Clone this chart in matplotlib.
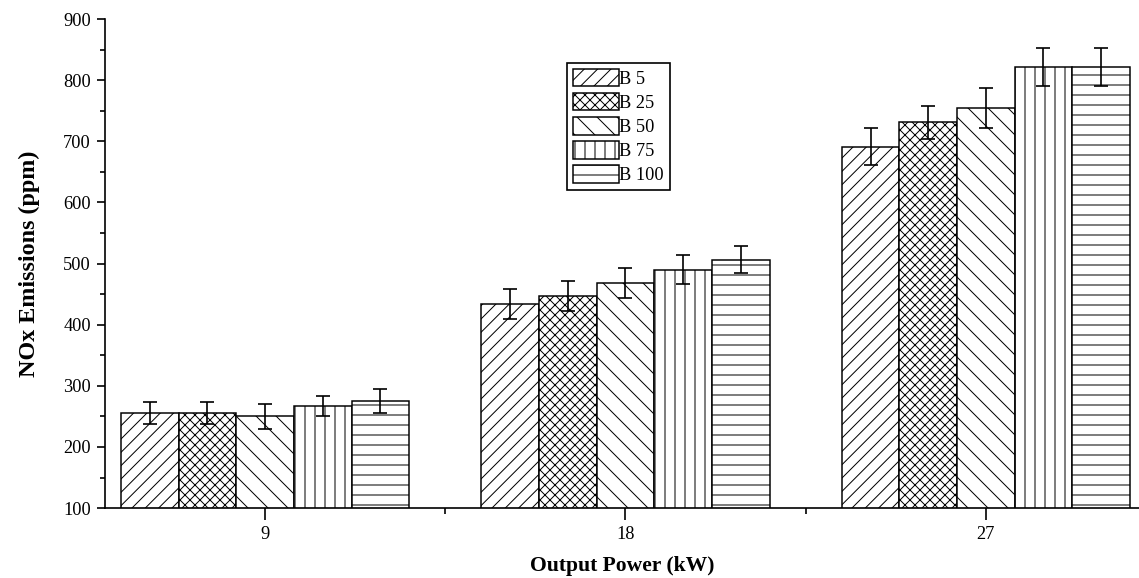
import numpy as np
import matplotlib
matplotlib.use("Agg")
import matplotlib.pyplot as plt
from matplotlib.ticker import MultipleLocator

plt.rcParams['font.family'] = ['Liberation Serif', 'DejaVu Serif']
plt.rcParams['hatch.linewidth'] = 0.6

# NOx emissions for each blend at each output power
power = ["9", "18", "27"]
blends = ["B 5", "B 25", "B 50", "B 75", "B 100"]
b5 = [255, 434, 691]
b25 = [255, 447, 731]
b50 = [250, 468, 755]
b75 = [267, 490, 822]
b100 = [275, 506, 822]
b5_err = [18, 25, 30]
b25_err = [18, 25, 27]
b50_err = [20, 25, 33]
b75_err = [17, 24, 31]
b100_err = [19, 22, 31]

values = [b5, b25, b50, b75, b100]
errors = [b5_err, b25_err, b50_err, b75_err, b100_err]
hatches = ['///', 'xxxx', '\\\\', '||', '--']

fig = plt.figure(figsize=(1139 / 120, 578 / 120), dpi=120)
ax = fig.add_axes([0.0922, 0.121, 0.9078, 0.846])

x = np.arange(len(power))
width = 0.16
for i in range(len(blends)):
    pos = x + (i - 2) * width
    ax.bar(pos, values[i], width, color='white', edgecolor='black',
           linewidth=0.9, hatch=hatches[i], label=blends[i])
    ax.errorbar(pos, values[i], yerr=errors[i], fmt='none', ecolor='black',
                elinewidth=1.0, capsize=4, capthick=1.0)

ax.set_xlim(-0.444, 2.425)
ax.set_ylim(100, 900)
ax.set_xticks(x)
ax.set_xticklabels(power)
ax.xaxis.set_minor_locator(MultipleLocator(0.5))
ax.yaxis.set_major_locator(MultipleLocator(100))
ax.yaxis.set_minor_locator(MultipleLocator(50))
ax.tick_params(axis='both', which='major', direction='out', labelsize=11, width=1)
ax.tick_params(axis='x', which='major', length=7)
ax.tick_params(axis='y', which='major', length=5)
ax.tick_params(axis='x', which='minor', direction='out', length=3.5, width=1)
ax.tick_params(axis='y', which='minor', direction='out', length=3, width=1)

ax.spines['top'].set_visible(False)
ax.spines['right'].set_visible(False)
ax.spines['left'].set_linewidth(1.0)
ax.spines['bottom'].set_linewidth(1.0)

ax.set_xlabel("Output Power (kW)", fontsize=13, fontweight='bold', labelpad=8)
ax.set_ylabel("NOx Emissions (ppm)", fontsize=14.5, fontweight='bold', labelpad=14)

leg = ax.legend(loc='upper left', bbox_to_anchor=(0.447, 0.91), fontsize=11,
                fancybox=False, edgecolor='black', framealpha=1,
                handlelength=2.5, handleheight=1.1, labelspacing=0.28,
                handletextpad=0.05, borderpad=0.3, borderaxespad=0)
leg.get_frame().set_linewidth(1.0)

fig.savefig("out.png", dpi=120)
